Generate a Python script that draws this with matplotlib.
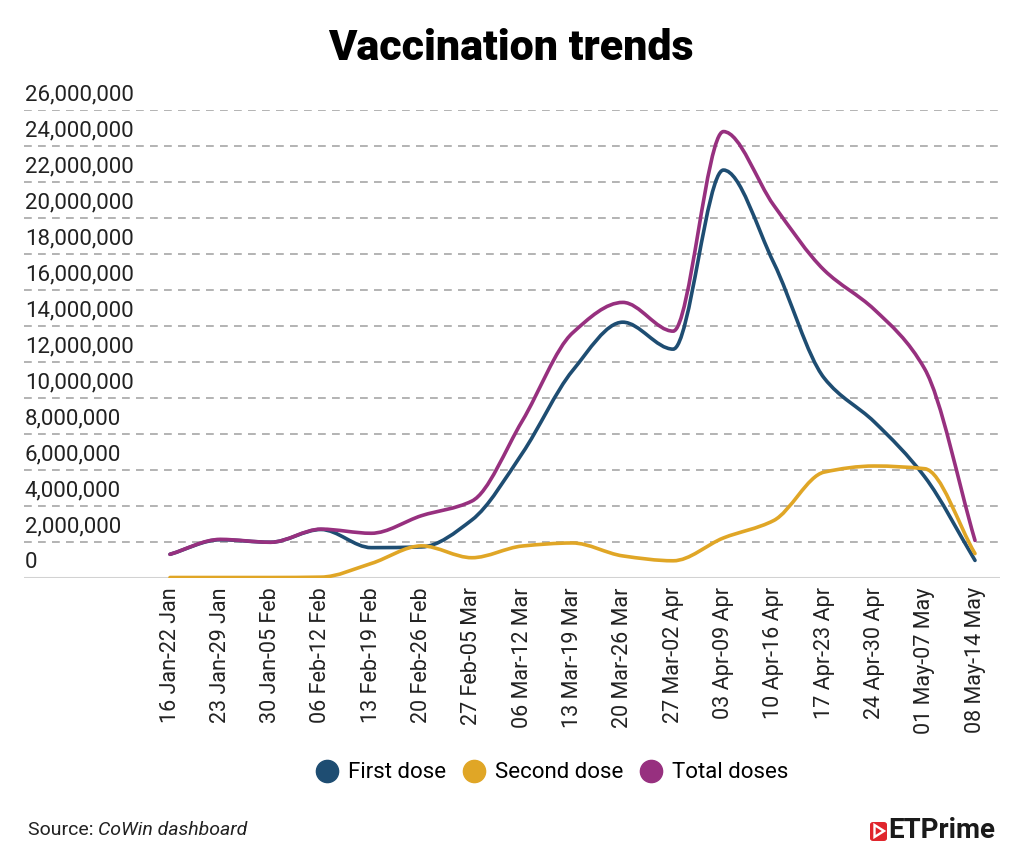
import matplotlib
matplotlib.use("Agg")
import matplotlib.pyplot as plt
import numpy as np
from matplotlib.path import Path
from matplotlib.patches import PathPatch, FancyBboxPatch, Polygon
from matplotlib.lines import Line2D

# ---------------- data ----------------
weeks = ["16 Jan-22 Jan", "23 Jan-29 Jan", "30 Jan-05 Feb", "06 Feb-12 Feb",
         "13 Feb-19 Feb", "20 Feb-26 Feb", "27 Feb-05 Mar", "06 Mar-12 Mar",
         "13 Mar-19 Mar", "20 Mar-26 Mar", "27 Mar-02 Apr", "03 Apr-09 Apr",
         "10 Apr-16 Apr", "17 Apr-23 Apr", "24 Apr-30 Apr", "01 May-07 May",
         "08 May-14 May"]
first_dose = [1.29e6, 2.10e6, 1.96e6, 2.67e6, 1.66e6, 1.70e6, 3.20e6, 6.90e6,
              11.5e6, 14.2e6, 12.7e6, 22.66e6, 17.5e6, 11.1e6, 8.65e6, 5.6e6, 0.95e6]
second_dose = [0, 0, 0, 0.02e6, 0.78e6, 1.76e6, 1.10e6, 1.75e6,
               1.92e6, 1.20e6, 0.93e6, 2.20e6, 3.17e6, 5.86e6, 6.20e6, 6.05e6, 1.33e6]
total_doses = [1.29e6, 2.12e6, 1.96e6, 2.69e6, 2.46e6, 3.44e6, 4.25e6, 8.70e6,
               13.6e6, 15.3e6, 13.7e6, 24.8e6, 20.7e6, 17.1e6, 14.9e6, 11.6e6, 2.06e6]
y_ticks = list(range(0, 26_000_001, 2_000_000))

series = [("First dose", first_dose, "#1e4d72"),
          ("Second dose", second_dose, "#e0a626"),
          ("Total doses", total_doses, "#97307f")]

# ---------------- helpers ----------------
def monotone_path(x, y):
    x = np.asarray(x, float); y = np.asarray(y, float)
    n = len(x)
    h = np.diff(x); d = np.diff(y) / h
    m = np.zeros(n)
    m[0] = d[0]; m[-1] = d[-1]
    for i in range(1, n - 1):
        if d[i - 1] * d[i] <= 0:
            m[i] = 0.0
        else:
            w1 = 2 * h[i] + h[i - 1]; w2 = h[i] + 2 * h[i - 1]
            m[i] = (w1 + w2) / (w1 / d[i - 1] + w2 / d[i])
    verts = [(x[0], y[0])]; codes = [Path.MOVETO]
    for i in range(n - 1):
        hh = h[i] / 3.0
        verts += [(x[i] + hh, y[i] + m[i] * hh),
                  (x[i + 1] - hh, y[i + 1] - m[i + 1] * hh),
                  (x[i + 1], y[i + 1])]
        codes += [Path.CURVE4] * 3
    return Path(verts, codes)

W, H = 1024, 866
FONT = "Roboto"
plt.rcParams["font.family"] = [FONT, "DejaVu Sans"]

fig = plt.figure(figsize=(W / 100, H / 100), dpi=100)
fig.patch.set_facecolor("white")

ax_left, ax_right = 24, 1000
y_base, y_top = 577.5, 110
ax = fig.add_axes([ax_left / W, (H - y_base) / H,
                   (ax_right - ax_left) / W, (y_base - y_top) / H])
px_per_unit = (975 - 170) / 16
ax.set_xlim(-(170 - ax_left) / px_per_unit, 16 + (ax_right - 975) / px_per_unit)
ax.set_ylim(0, 26_000_000)

for s in ax.spines.values():
    s.set_visible(False)

# grid lines
for v in y_ticks[1:]:
    ax.axhline(v, color="#b3b3b3", lw=1.4, dashes=(4, 3.2), zorder=1)
ax.axhline(0, color="#d2d2d2", lw=2.2, zorder=1)

# y labels (above the grid lines, left aligned)
ax.set_yticks([])
for v in y_ticks:
    ax.annotate(f"{v:,}", xy=(0, v), xycoords=("axes fraction", "data"),
                xytext=(0.5, 3.2), textcoords="offset points",
                ha="left", va="bottom", fontsize=16, color="#222222")

# x labels
xs = np.arange(len(weeks))
ax.set_xticks(xs)
ax.set_xticklabels(weeks, rotation=90, fontsize=15.5, color="#222222")
ax.tick_params(axis="x", length=0, pad=7)

# curves
for name, vals, col in series:
    p = PathPatch(monotone_path(xs, vals), facecolor="none", edgecolor=col,
                  lw=2.6, zorder=3, capstyle="round", joinstyle="round")
    ax.add_patch(p)

# title
fig.text(511 / W, 1 - 48 / H, "Vaccination trends", ha="center", va="center",
         fontsize=31, fontweight="black", color="#000000")

# legend
handles = [Line2D([], [], marker="o", ls="none", markersize=16,
                  markerfacecolor=c, markeredgecolor=c) for _, _, c in series]
fig.legend(handles, [n for n, _, _ in series], loc="center",
           bbox_to_anchor=(552 / W, 1 - 773 / H), ncol=3, frameon=False,
           fontsize=16, handletextpad=0.45, columnspacing=0.75,
           handlelength=1.0)

# source
r = fig.canvas.get_renderer()
t1 = fig.text(28 / W, 1 - 830 / H, "Source: ", ha="left", va="center",
              fontsize=14, color="#222222")
bb = t1.get_window_extent(r)
fig.text(bb.x1 / W, 1 - 830 / H, "CoWin dashboard", ha="left", va="center",
         fontsize=14, style="italic", color="#222222")

# ETPrime logo
box = FancyBboxPatch((870 / W, 1 - 841 / H), 17 / W, 19 / H,
                     boxstyle="round,pad=0,rounding_size=0.003",
                     transform=fig.transFigure, facecolor="#e0262d",
                     edgecolor="none")
fig.patches.append(box)
tri = Polygon([(874.5 / W, 1 - 825 / H), (874.5 / W, 1 - 837 / H), (884 / W, 1 - 831 / H)],
              closed=True, transform=fig.transFigure, facecolor="none",
              edgecolor="white", lw=1.7)
fig.patches.append(tri)
fig.text(888 / W, 1 - 831 / H, "ETPrime", ha="left", va="center",
         fontsize=20, fontweight="bold", color="#1a1a1a")

fig.savefig("out.png", dpi=100, facecolor="white")
